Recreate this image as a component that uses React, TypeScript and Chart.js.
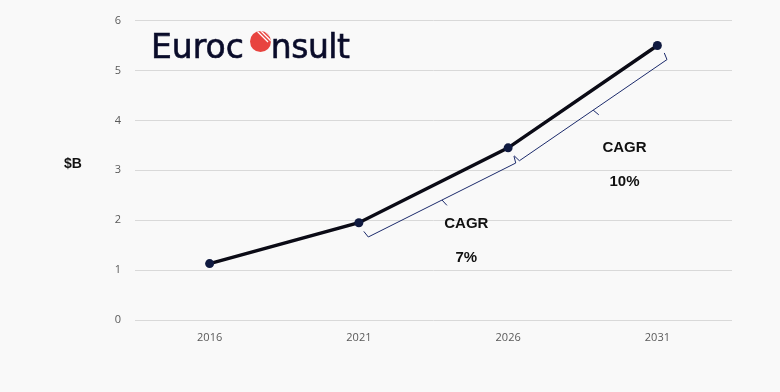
import React, { useEffect, useRef } from 'react';
import { Chart, registerables } from 'chart.js';

Chart.register(...registerables);

const years = ['2016', '2021', '2026', '2031'];
const marketValues = [1.13, 1.95, 3.45, 5.5];
const yMin = 0;
const yMax = 6;
const yStep = 1;
const cagrTitles = ['CAGR', 'CAGR'];
const cagrRates = ['7%', '10%'];
const cagrSegments = [
  [1, 2],
  [2, 3],
];
const unitLabel = '$B';

const cagrPlugin = {
  id: 'cagrBrackets',
  afterDatasetsDraw(chart: any) {
    const ctx = chart.ctx as CanvasRenderingContext2D;
    const meta = chart.getDatasetMeta(0);
    const ys = chart.scales.y;
    const area = chart.chartArea;
    ctx.save();
    ctx.fillStyle = '#111111';
    ctx.font = 'bold 14px "Liberation Sans", Arial, sans-serif';
    ctx.textAlign = 'center';
    ctx.textBaseline = 'middle';
    ctx.fillText(unitLabel, area.left - 62, ys.getPixelForValue(3.12));

    const fracs = [0.72, 0.78];
    const titleVals = [1.92, 3.44];
    cagrSegments.forEach(([i, j], k) => {
      const p0 = meta.data[i];
      const p1 = meta.data[j];
      const dx = p1.x - p0.x;
      const dy = p1.y - p0.y;
      const len = Math.hypot(dx, dy);
      const ux = dx / len;
      const uy = dy / len;
      const nx = -uy;
      const ny = ux;
      const d = 17;
      const hook = 7;
      const tick = 7;
      const ax = p0.x + nx * d + ux * 2;
      const ay = p0.y + ny * d + uy * 2;
      const bx = p1.x + nx * d;
      const by = p1.y + ny * d;
      const mx = (ax + bx) / 2;
      const my = (ay + by) / 2;
      ctx.strokeStyle = '#1b2a6b';
      ctx.lineWidth = 1;
      ctx.beginPath();
      ctx.moveTo(ax - nx * hook - ux * 1.5, ay - ny * hook - uy * 1.5);
      ctx.lineTo(ax, ay);
      ctx.lineTo(bx, by);
      ctx.lineTo(bx - nx * hook + ux * 1.5, by - ny * hook + uy * 1.5);
      ctx.stroke();
      ctx.beginPath();
      ctx.moveTo(mx, my);
      ctx.lineTo(mx + nx * tick + ux * 2, my + ny * tick + uy * 2);
      ctx.stroke();

      const lx = p0.x + fracs[k] * dx;
      const ly = ys.getPixelForValue(titleVals[k]);
      ctx.fillStyle = '#111111';
      ctx.font = 'bold 15px "Liberation Sans", Arial, sans-serif';
      ctx.fillText(cagrTitles[k], lx, ly);
      ctx.fillText(cagrRates[k], lx, ly + 34);
    });
    ctx.restore();
  },
};

function Logo() {
  return (
    <div
      style={{
        position: 'absolute',
        left: 151,
        top: 30,
        fontFamily: '"DejaVu Sans", sans-serif',
        fontSize: 33,
        lineHeight: 1,
        color: '#0a0c2a',
        whiteSpace: 'nowrap',
        WebkitTextStroke: '0.6px #0a0c2a',
      }}
    >
      Euroc
      <span
        style={{
          display: 'inline-block',
          position: 'relative',
          color: 'transparent',
          WebkitTextStroke: '0px transparent',
          paddingRight: 6.7,
        }}
      >
        o
        <svg
          width={21}
          height={21}
          viewBox="0 0 21 21"
          style={{ position: 'absolute', left: 6.3, top: 1.2 }}
        >
          <defs>
            <clipPath id="logoClip">
              <circle cx={10.5} cy={10.5} r={10.5} />
            </clipPath>
          </defs>
          <circle cx={10.5} cy={10.5} r={10.5} fill="#e8443f" />
          <g clipPath="url(#logoClip)" stroke="#ffffff" strokeWidth={1.3}>
            <line x1={6} y1={-1} x2={18} y2={11} />
            <line x1={9} y1={-2} x2={21} y2={10} />
            <line x1={12} y1={-3} x2={24} y2={9} />
            <line x1={15} y1={-4} x2={27} y2={8} />
          </g>
        </svg>
      </span>
      <span style={{ letterSpacing: -0.5 }}>nsult</span>
    </div>
  );
}

export default function App() {
  const canvasRef = useRef<HTMLCanvasElement | null>(null);

  useEffect(() => {
    if (!canvasRef.current) return;
    const chart = new Chart(canvasRef.current, {
      type: 'line',
      data: {
        labels: years,
        datasets: [
          {
            data: marketValues,
            borderColor: '#0b0b16',
            borderWidth: 3.5,
            pointRadius: 4.5,
            pointBackgroundColor: '#101a40',
            pointBorderColor: '#101a40',
            pointBorderWidth: 0,
            tension: 0,
            fill: false,
          },
        ],
      },
      options: {
        responsive: false,
        animation: false,
        events: [],
        layout: { padding: { left: 0, right: 48, top: 20, bottom: 42 } },
        plugins: {
          legend: { display: false },
          tooltip: { enabled: false },
          title: { display: false },
        },
        scales: {
          x: {
            offset: true,
            grid: { display: false, drawTicks: false },
            border: { display: false },
            ticks: {
              color: '#595959',
              font: { family: '"Open Sans", sans-serif', size: 11 },
              padding: 11,
            },
            afterFit: (scale: any) => {
              scale.height = 30;
            },
          },
          y: {
            min: yMin,
            max: yMax,
            grid: { color: '#d9d9d9', lineWidth: 1, drawTicks: false },
            border: { display: false },
            ticks: {
              stepSize: yStep,
              color: '#595959',
              font: { family: '"Open Sans", sans-serif', size: 11 },
              padding: 14,
            },
            afterFit: (scale: any) => {
              scale.width = 135;
            },
          },
        },
      },
      plugins: [cagrPlugin],
    });
    return () => chart.destroy();
  }, []);

  return (
    <div
      style={{
        position: 'absolute',
        left: 0,
        top: 0,
        width: 780,
        height: 392,
        background: '#f9f9f9',
        overflow: 'hidden',
      }}
    >
      <canvas ref={canvasRef} width={780} height={392} style={{ display: 'block' }} />
      <Logo />
    </div>
  );
}
